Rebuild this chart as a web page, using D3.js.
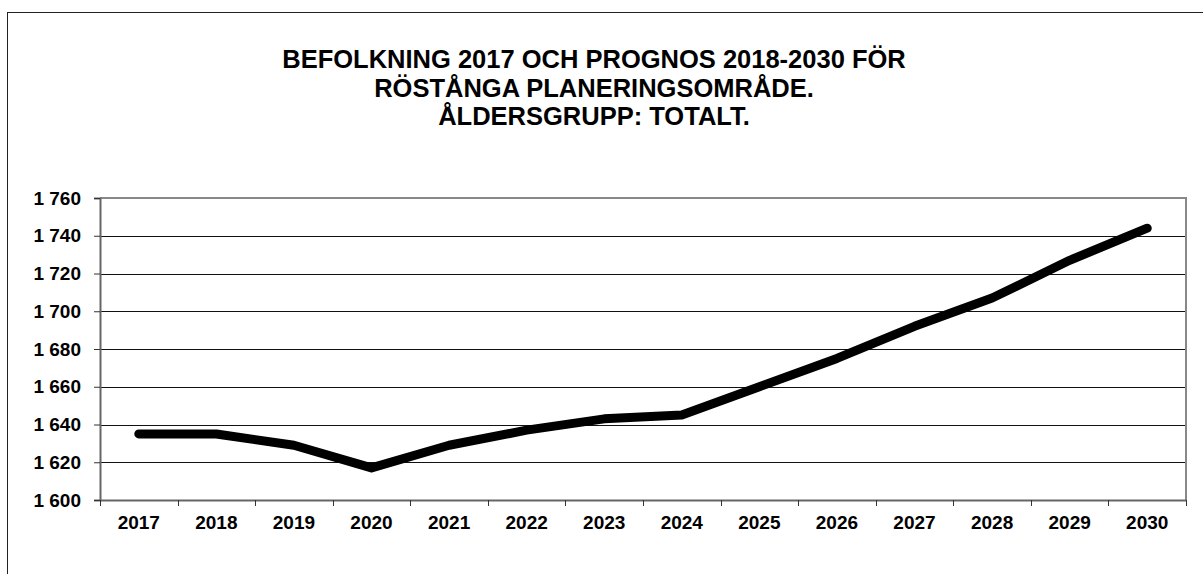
<!DOCTYPE html>
<html><head><meta charset="utf-8">
<script src="https://cdn.jsdelivr.net/npm/d3@7"></script>
<style>body{margin:0;background:#fff}svg{display:block}text{font-family:"Liberation Sans",Arial,sans-serif;font-weight:bold;fill:#000}</style>
</head><body>
<svg id="c" width="1203" height="574"></svg>
<script>
const years = ["2017","2018","2019","2020","2021","2022","2023","2024","2025","2026","2027","2028","2029","2030"];
const population = [1635,1635,1629,1617,1629,1637,1643,1645,1660,1675,1692,1707,1727,1744];
const yTicks = [1600,1620,1640,1660,1680,1700,1720,1740,1760];
const titleLines = ["BEFOLKNING 2017 OCH PROGNOS 2018-2030 FÖR","RÖSTÅNGA PLANERINGSOMRÅDE.","ÅLDERSGRUPP: TOTALT."];

const svg = d3.select("#c");
const m = {l:100, r:1186, t:198, b:500};
// outer frame
svg.append("rect").attr("x",7.5).attr("y",12.5).attr("width",1300).attr("height",700)
  .attr("fill","none").attr("stroke","#222").attr("stroke-width",1);

const x = d3.scaleBand().domain(years).range([m.l,m.r]);
const y = d3.scaleLinear().domain([1600,1760]).range([m.b,m.t]);
const fmt = v => d3.format(",")(v).replace(/,/g," ");

// gridlines
svg.append("g").selectAll("line").data(yTicks.filter(v=>v>1600 && v<1760)).join("line")
  .attr("x1",m.l).attr("x2",m.r).attr("y1",d=>Math.round(y(d))+0.5).attr("y2",d=>Math.round(y(d))+0.5)
  .attr("stroke","#111").attr("stroke-width",1);
// top and right border
svg.append("path").attr("d",`M${m.l},${m.t}H${m.r}V${m.b}`).attr("fill","none").attr("stroke","#888").attr("stroke-width",2);

// y axis
const ya = svg.append("g").attr("transform",`translate(${m.l},0)`)
  .call(d3.axisLeft(y).tickValues(yTicks).tickFormat(fmt).tickSize(6).tickPadding(13));
ya.select(".domain").attr("stroke","#666").attr("stroke-width",2);
ya.selectAll(".tick line").attr("stroke","#333");
ya.selectAll("text").style("font-size","19px").attr("fill","#000");

// x axis
const xa = svg.append("g").attr("transform",`translate(0,${m.b})`)
  .call(d3.axisBottom(x).tickSize(0).tickPadding(16));
xa.select(".domain").attr("stroke","#666").attr("stroke-width",2);
xa.selectAll("text").style("font-size","19px").attr("fill","#000");
// tick marks at band boundaries
svg.append("g").selectAll("line").data(years.concat(["end"])).join("line")
  .attr("x1",(d,i)=>Math.round(m.l + i*x.step())+0.5).attr("x2",(d,i)=>Math.round(m.l + i*x.step())+0.5)
  .attr("y1",m.b).attr("y2",m.b+6).attr("stroke","#333");

// line
const line = d3.line().x((d,i)=>x(years[i])+x.bandwidth()/2).y(d=>y(d));
svg.append("path").datum(population).attr("d",line).attr("fill","none")
  .attr("stroke","#000").attr("stroke-width",9).attr("stroke-linecap","round").attr("stroke-linejoin","round");

// title
svg.append("g").selectAll("text").data(titleLines).join("text")
  .attr("x",594).attr("y",(d,i)=>68+i*28.5).attr("text-anchor","middle")
  .style("font-size","25.5px").text(d=>d);
</script>
</body></html>
